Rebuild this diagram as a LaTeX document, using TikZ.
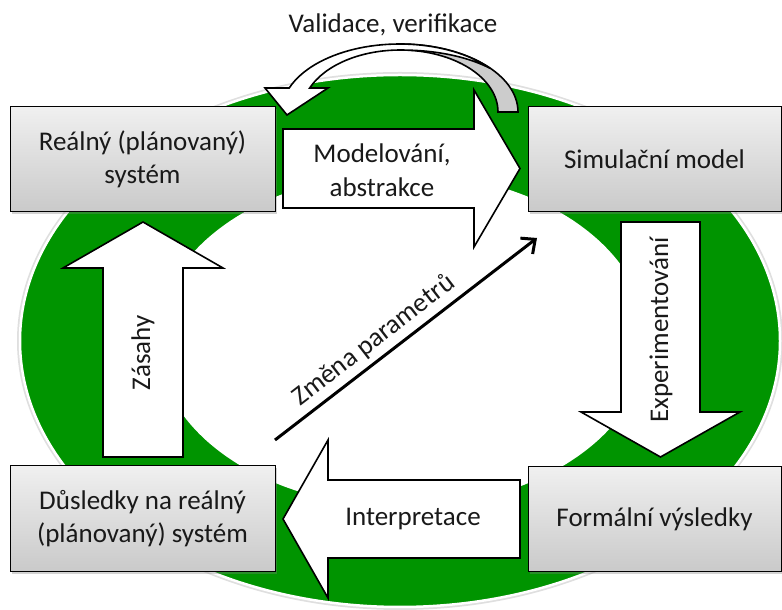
\documentclass[tikz,border=0pt]{standalone}
\usepackage{fontspec}
\setmainfont{Carlito}
\usetikzlibrary{shadows,arrows.meta}
\definecolor{ringgreen}{RGB}{0,148,0}
\definecolor{txt}{RGB}{25,25,25}
\tikzset{
  stagebox/.style={draw=black, line width=1pt, top color=gray!12, bottom color=gray!42,
    minimum height=105pt, align=center, text=txt, font=\fontsize{27}{33}\selectfont,
    drop shadow={shadow xshift=2pt, shadow yshift=-2pt, opacity=0.35}},
  blockarrow/.style={draw=black, line width=1.6pt, fill=white, line join=miter},
  lbl/.style={align=center, text=txt, font=\fontsize{27}{34}\selectfont},
}
\begin{document}
\begin{tikzpicture}[x=1pt,y=1pt]
\useasboundingbox (0,0) rectangle (782,610);
% ring
\fill[gray!25] (400,269) ellipse [x radius=383, y radius=269];
\draw[white, line width=2.5pt, fill=ringgreen] (400,269) ellipse [x radius=380, y radius=266];
\fill[white] (402,270) ellipse [x radius=245, y radius=167];
% boxes
\node[stagebox, minimum width=265pt] (real) at (142.5,450.5) {Reálný (plánovaný)\\systém};
\node[stagebox, minimum width=253pt] (sim) at (654.5,450.5) {Simulační model};
\node[stagebox, minimum width=265pt, minimum height=106pt] (dus) at (142.5,91) {Důsledky na reálný\\(plánovaný) systém};
\node[stagebox, minimum width=253pt] (form) at (654.5,90.5) {Formální výsledky};
% block arrows
\draw[blockarrow] (283,481) -- (474,481) -- (474,520) -- (520,441.5) -- (474,363) -- (474,402) -- (283,402) -- cycle;
\node[lbl] (model) at (382,440) {Modelování,\\abstrakce};
\draw[blockarrow] (103,153) -- (103,342) -- (63,342) -- (143,388) -- (223,342) -- (183,342) -- (183,153) -- cycle;
\node[lbl, rotate=90] (zas) at (143,257) {Zásahy};
\draw[blockarrow] (621,388) -- (621,198) -- (581,198) -- (660.5,153) -- (740,198) -- (700,198) -- (700,388) -- cycle;
\node[lbl, rotate=90] (exp) at (661,280) {Experimentování};
\draw[blockarrow] (520,130) -- (328,130) -- (328,170) -- (283,91) -- (328,12) -- (328,52) -- (520,52) -- cycle;
\node[lbl] (interp) at (413,91) {Interpretace};
% curved validation arrow
\draw[line width=1.6pt, fill=gray!40] (518,498) arc[start angle=0, end angle=90, x radius=118, y radius=68]
  -- (400,560) arc[start angle=90, end angle=0, x radius=98, y radius=62] -- cycle;
\draw[line width=1.6pt, fill=white, line join=miter] (265,522) -- (287,495) -- (328,522) -- (309.7,522)
  arc[start angle=157.2, end angle=90, x radius=98, y radius=62]
  .. controls (440,560) and (470,552) .. (490,541.7)
  arc[start angle=40, end angle=159.3, x radius=118, y radius=68] -- cycle;
\node[lbl] (valid) at (393,585) {Validace, verifikace};
% parameter change
\coordinate (zs) at (275,170);
\coordinate (ze) at (537,372);
\draw[line width=3pt, -{Straight Barb[length=11pt,width=20pt]}] (zs) -- (ze)
  node[lbl, pos=0.42, sloped, above=2pt] (zmena) {Změna parametrů};
\end{tikzpicture}
\end{document}
